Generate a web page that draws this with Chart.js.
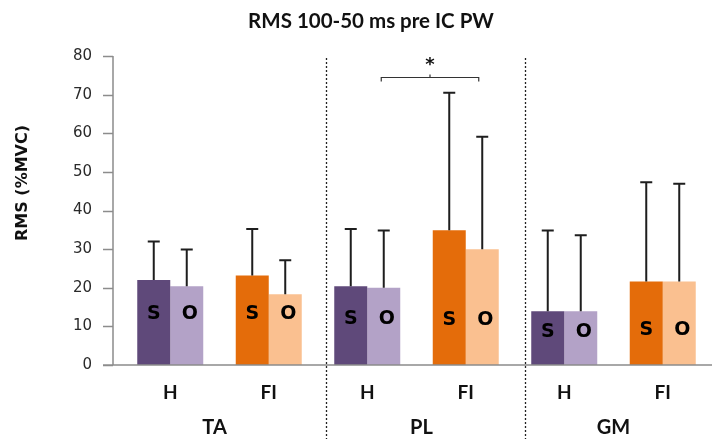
<!DOCTYPE html>
<html>
<head>
<meta charset="utf-8">
<script src="https://cdn.jsdelivr.net/npm/chart.js@4/dist/chart.umd.min.js"></script>
<style>
  html, body { margin: 0; padding: 0; background: #fff; }
  #wrap { width: 712px; height: 439px; }
</style>
</head>
<body>
<div id="wrap"><canvas id="rmsChart" width="712" height="439"></canvas></div>
<script>
// data (means and upper SD)
const categories = ['H', 'FI', 'H', 'FI', 'H', 'FI'];
const muscles = ['TA', 'PL', 'GM'];
const sMeans = [22.0, 23.2, 20.4, 34.9, 13.9, 21.6];
const oMeans = [20.4, 18.3, 20.0, 30.0, 13.9, 21.6];
const sSD = [10.0, 12.0, 14.8, 35.6, 20.9, 25.7];
const oSD = [9.5, 8.8, 14.8, 29.1, 19.7, 25.3];
const yTicks = [0, 10, 20, 30, 40, 50, 60, 70, 80];

const purpleDark = '#5f497a', purpleLight = '#b3a2c7';
const orangeDark = '#e46c0a', orangeLight = '#fac090';

const sColors = categories.map(c => c === 'H' ? purpleDark : orangeDark);
const oColors = categories.map(c => c === 'H' ? purpleLight : orangeLight);

(() => {
    const sdBySet = [sSD, oSD];
    const meanBySet = [sMeans, oMeans];
    // height (value units) where the S / O letters sit inside the bars
    const letterAt = [13.3, 13.3, 12.0, 11.6, 8.4, 9.0];

    const extras = {
        id: 'extras',
        afterDatasetsDraw(chart) {
            const { ctx, chartArea } = chart;
            const x = chart.scales.x, y = chart.scales.y;
            const axisX = chartArea.left - 8;

            ctx.save();
            // axes
            ctx.strokeStyle = '#8c8c8c';
            ctx.lineWidth = 1.5;
            ctx.beginPath();
            ctx.moveTo(axisX, y.getPixelForValue(80));
            ctx.lineTo(axisX, y.getPixelForValue(0));
            yTicks.forEach(t => {
                const py = Math.round(y.getPixelForValue(t)) + 0.5;
                ctx.moveTo(axisX - 10, py);
                ctx.lineTo(axisX, py);
            });
            ctx.moveTo(axisX - 10, y.getPixelForValue(0));
            ctx.lineTo(chartArea.right, y.getPixelForValue(0));
            ctx.stroke();

            // error bars (upper only)
            ctx.strokeStyle = '#1e1e1e';
            ctx.lineWidth = 2;
            [0, 1].forEach(d => {
                chart.getDatasetMeta(d).data.forEach((bar, i) => {
                    const top = y.getPixelForValue(meanBySet[d][i] + sdBySet[d][i]);
                    ctx.beginPath();
                    ctx.moveTo(bar.x, bar.y);
                    ctx.lineTo(bar.x, top);
                    ctx.moveTo(bar.x - 6, top);
                    ctx.lineTo(bar.x + 6, top);
                    ctx.stroke();
                });
            });

            // S / O letters
            ctx.fillStyle = '#000';
            ctx.font = 'bold 19px "DejaVu Sans"';
            ctx.textAlign = 'center';
            ctx.textBaseline = 'middle';
            [0, 1].forEach(d => {
                chart.getDatasetMeta(d).data.forEach((bar, i) => {
                    ctx.fillText(d === 0 ? 'S' : 'O', bar.x + (d === 1 ? 3 : 0), y.getPixelForValue(letterAt[i]));
                });
            });

            // dashed separators between muscles
            ctx.strokeStyle = '#222';
            ctx.lineWidth = 1.3;
            ctx.setLineDash([2, 2]);
            [1.58, 3.6].forEach(v => {
                const px = Math.round(x.getPixelForValue(v)) + 0.5;
                ctx.beginPath();
                ctx.moveTo(px, 58);
                ctx.lineTo(px, chart.height);
                ctx.stroke();
            });
            ctx.setLineDash([]);

            // significance bracket PL H vs FI
            const bx1 = x.getPixelForValue(2) + 14, bx2 = x.getPixelForValue(3) + 13;
            const by = Math.round(y.getPixelForValue(74.5)) + 0.5;
            const bc = (bx1 + bx2) / 2;
            ctx.strokeStyle = '#333';
            ctx.lineWidth = 1.2;
            ctx.beginPath();
            ctx.moveTo(bx1, by + 4);
            ctx.lineTo(bx1, by);
            ctx.lineTo(bx2, by);
            ctx.lineTo(bx2, by + 4);
            ctx.moveTo(bc, by);
            ctx.lineTo(bc, by - 3);
            ctx.stroke();
            ctx.fillStyle = '#111';
            ctx.font = 'bold 18px "DejaVu Sans"';
            ctx.fillText('*', bc, by - 12);

            // muscle group labels
            ctx.font = 'bold 20px Lato';
            [0.45, 2.55, 4.5].forEach((v, k) => {
                ctx.fillText(muscles[k], x.getPixelForValue(v), 428);
            });

            // title
            ctx.font = 'bold 20.5px Lato';
            ctx.fillText('RMS 100-50 ms pre IC PW', 371, 21);

            // y title
            ctx.translate(23, 183);
            ctx.rotate(-Math.PI / 2);
            ctx.font = 'bold 16px "DejaVu Sans"';
            ctx.fillText('RMS (%MVC)', 0, 0);
            ctx.restore();
        }
    };

    new Chart(document.getElementById('rmsChart'), {
        type: 'bar',
        data: {
            labels: categories,
            datasets: [
                { label: 'S', data: sMeans, backgroundColor: sColors, borderWidth: 0 },
                { label: 'O', data: oMeans, backgroundColor: oColors, borderWidth: 0 }
            ]
        },
        options: {
            responsive: false,
            animation: false,
            devicePixelRatio: 1,
            categoryPercentage: 0.67,
            barPercentage: 1,
            layout: { padding: { top: 56, left: 0, right: 0, bottom: 0 } },
            plugins: {
                legend: { display: false },
                tooltip: { enabled: false }
            },
            scales: {
                x: {
                    grid: { display: false },
                    border: { display: false },
                    ticks: {
                        color: '#111',
                        font: { family: 'Lato', size: 19, weight: 'bold' },
                        padding: 8
                    },
                    afterFit(scale) { scale.height = 74; }
                },
                y: {
                    min: 0,
                    max: 80,
                    grid: { display: false },
                    border: { display: false },
                    afterBuildTicks(scale) { scale.ticks = yTicks.map(v => ({ value: v })); },
                    ticks: {
                        color: '#2a2a2a',
                        font: { family: 'DejaVu Sans', size: 15 },
                        padding: 21
                    },
                    afterFit(scale) { scale.width = 121; }
                }
            }
        },
        plugins: [extras]
    });
})();
</script>
</body>
</html>
